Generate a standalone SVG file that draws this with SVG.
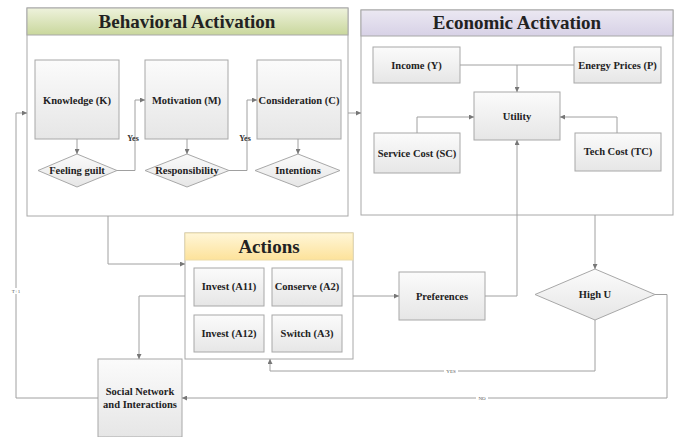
<svg xmlns="http://www.w3.org/2000/svg" width="675" height="437" viewBox="0 0 675 437">
<defs>
<linearGradient id="gBox" x1="0" y1="0" x2="0" y2="1"><stop offset="0" stop-color="#fbfbfb"/><stop offset="1" stop-color="#e6e6e6"/></linearGradient>
<linearGradient id="gGreen" x1="0" y1="0" x2="0" y2="1"><stop offset="0" stop-color="#eef2dc"/><stop offset="1" stop-color="#c9d79c"/></linearGradient>
<linearGradient id="gPurple" x1="0" y1="0" x2="0" y2="1"><stop offset="0" stop-color="#ebe8f2"/><stop offset="1" stop-color="#d7d1e6"/></linearGradient>
<linearGradient id="gYellow" x1="0" y1="0" x2="0" y2="1"><stop offset="0" stop-color="#fff6d8"/><stop offset="1" stop-color="#fde29a"/></linearGradient>
<marker id="arr" viewBox="0 0 6 6" refX="6" refY="3" markerWidth="5" markerHeight="5" orient="auto"><path d="M0,0 L6,3 L0,6 z" fill="#777"/></marker>
</defs>
<style>
.cont{fill:#fff;stroke:#a8a8a8;stroke-width:1}
.box{fill:url(#gBox);stroke:#a8a8a8;stroke-width:1}
text{font-family:"Liberation Serif","DejaVu Serif",serif}
.t{font-weight:bold;font-size:10.5px;fill:#222;text-anchor:middle}
.h{font-weight:bold;font-size:19px;fill:#222;text-anchor:middle}
.s{font-weight:bold;font-size:8px;fill:#333;text-anchor:middle}
.tiny{font-size:5px;fill:#555;text-anchor:middle}
.ln{fill:none;stroke:#a0a0a0;stroke-width:1}
.la{fill:none;stroke:#a0a0a0;stroke-width:1;marker-end:url(#arr)}
</style>
<rect width="675" height="437" fill="#fff"/>

<g id="behavioral-activation">
<rect class="cont" x="27" y="8" width="321" height="208"/>
<rect x="27" y="8" width="321" height="27" fill="url(#gGreen)" stroke="#a8a8a8"/>
<text class="h" x="187" y="28">Behavioral Activation</text>
</g>
<g id="economic-activation">
<rect class="cont" x="361" y="10" width="312" height="205"/>
<rect x="361" y="10" width="312" height="26" fill="url(#gPurple)" stroke="#a8a8a8"/>
<text class="h" x="517" y="29">Economic Activation</text>
</g>
<g id="actions">
<rect class="cont" x="185" y="233" width="168" height="126" fill="#fffdf6"/>
<rect x="185" y="233" width="168" height="27" fill="url(#gYellow)" stroke="#ecdca8"/>
<text class="h" x="269" y="253">Actions</text>
</g>

<g id="knowledge"><rect class="box" x="35" y="60" width="84" height="79"/><text class="t" x="77" y="104">Knowledge (K)</text></g>
<g id="motivation"><rect class="box" x="145" y="60" width="83" height="79"/><text class="t" x="186.5" y="104">Motivation (M)</text></g>
<g id="consideration"><rect class="box" x="257" y="60" width="84" height="79"/><text class="t" x="299" y="104">Consideration (C)</text></g>
<g id="feeling-guilt"><polygon class="box" points="77,154 117,170.5 77,187 38,170.5"/><text class="t" x="77" y="174">Feeling guilt</text></g>
<g id="responsibility"><polygon class="box" points="187,154 229,170.5 187,187 145,170.5"/><text class="t" x="187" y="174">Responsibility</text></g>
<g id="intentions"><polygon class="box" points="298,154 340,170.5 298,187 255,170.5"/><text class="t" x="298" y="174">Intentions</text></g>

<g id="income"><rect class="box" x="373" y="47" width="87" height="36"/><text class="t" x="416.5" y="69">Income (Y)</text></g>
<g id="energy-prices"><rect class="box" x="574" y="47" width="87" height="36"/><text class="t" x="617.5" y="69">Energy Prices (P)</text></g>
<g id="utility"><rect class="box" x="474" y="92" width="86" height="48"/><text class="t" x="517" y="120">Utility</text></g>
<g id="service-cost"><rect class="box" x="374" y="133" width="86" height="40"/><text class="t" x="417" y="157">Service Cost (SC)</text></g>
<g id="tech-cost"><rect class="box" x="575" y="133" width="86" height="38"/><text class="t" x="618" y="155">Tech Cost (TC)</text></g>

<g id="invest-a11"><rect class="box" x="194" y="268" width="70" height="38"/><text class="t" x="229" y="290">Invest (A11)</text></g>
<g id="conserve-a2"><rect class="box" x="272" y="268" width="70" height="38"/><text class="t" x="307" y="290">Conserve (A2)</text></g>
<g id="invest-a12"><rect class="box" x="194" y="315" width="70" height="37"/><text class="t" x="229" y="337">Invest (A12)</text></g>
<g id="switch-a3"><rect class="box" x="272" y="315" width="70" height="37"/><text class="t" x="307" y="337">Switch (A3)</text></g>

<g id="preferences"><rect class="box" x="399" y="272" width="86" height="48"/><text class="t" x="442" y="300">Preferences</text></g>
<g id="high-u"><polygon class="box" points="595,269 655,294.5 595,320 535,294.5"/><text class="t" x="595" y="298">High U</text></g>
<g id="social-network"><rect class="box" x="98" y="359" width="84" height="78"/><text class="t" x="140" y="395">Social Network</text><text class="t" x="140" y="408">and Interactions</text></g>

<g id="connectors">
<path class="la" d="M77,139 V154"/>
<path class="la" d="M117,170.5 H135 V100 H145"/>
<path class="la" d="M187,139 V154"/>
<path class="la" d="M229,170.5 H247 V100 H257"/>
<path class="la" d="M298,139 V154"/>
<path class="la" d="M348,113 H361"/>
<path class="ln" d="M460,65 H574"/>
<path class="la" d="M517,65 V92"/>
<path class="la" d="M417,133 V117 H474"/>
<path class="la" d="M617,133 V117 H560"/>
<path class="la" d="M108,216 V264 H185"/>
<path class="la" d="M353,296 H399"/>
<path class="la" d="M485,296 H517 V140"/>
<path class="la" d="M595,215 V269"/>
<path class="la" d="M595,320 V371 H270 V359"/>
<path class="la" d="M655,294.5 H667 V398 H182"/>
<path class="la" d="M185,296 H139 V359"/>
<path class="la" d="M98,398 H16 V113 H27"/>
<text class="s" x="133" y="141">Yes</text>
<text class="s" x="245" y="141">Yes</text>
<rect x="10" y="288" width="12" height="6" fill="#fff"/>
<text class="tiny" x="16" y="293">T+1</text>
<rect x="444" y="368" width="14" height="6" fill="#fff"/>
<text class="tiny" x="451" y="373">YES</text>
<rect x="476" y="395" width="12" height="6" fill="#fff"/>
<text class="tiny" x="482" y="400">NO</text>
</g>
</svg>
